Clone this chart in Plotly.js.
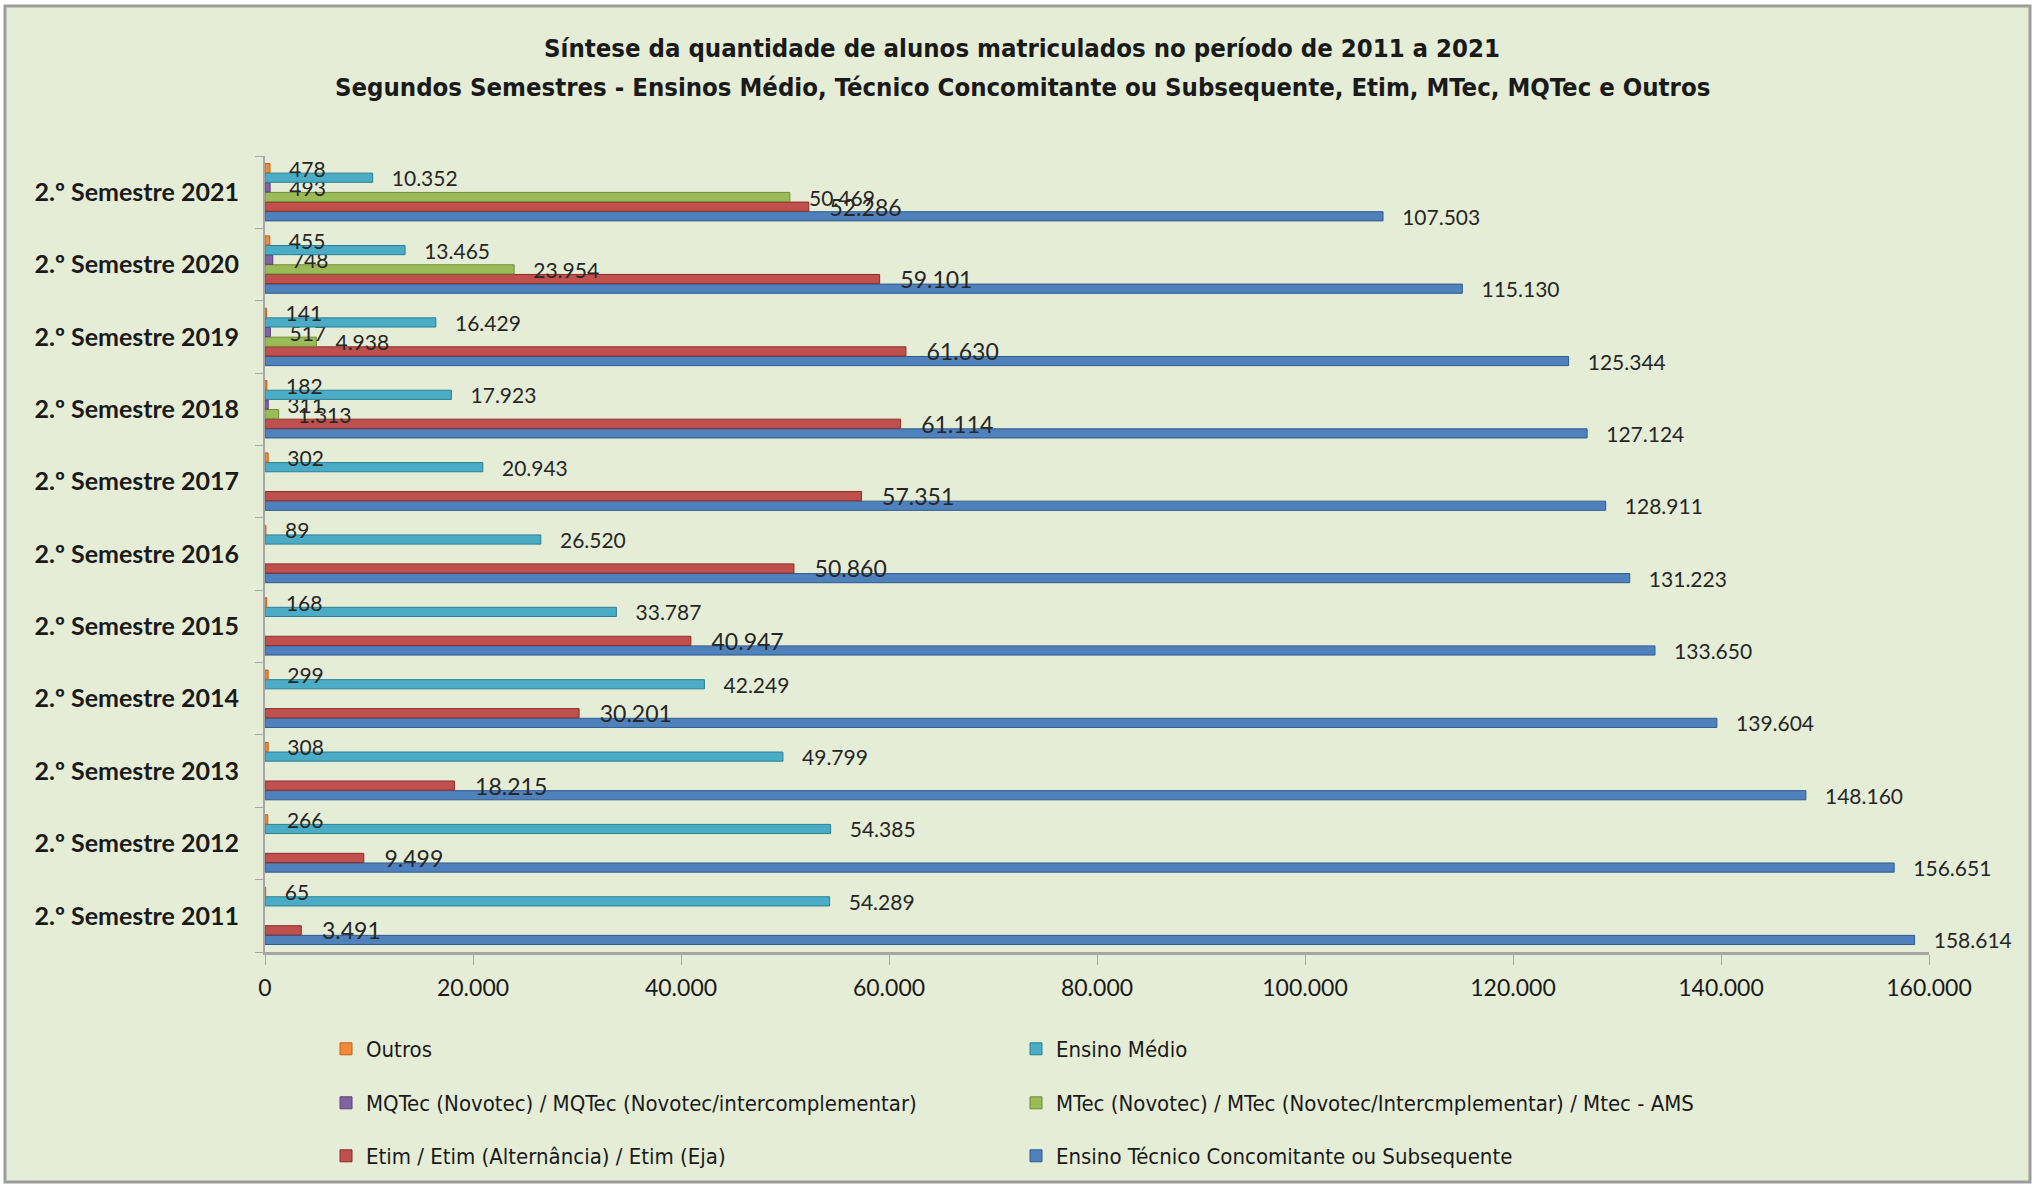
<!DOCTYPE html>
<html>
<head>
<meta charset="utf-8">
<script src="https://cdn.plot.ly/plotly-3.0.1.min.js"></script>
<style>
html,body{margin:0;padding:0;background:#ffffff;}
#chart{width:2044px;height:1185px;}
</style>
</head>
<body>
<div id="chart"></div>
<script>
// Categories (bottom to top)
const categories = [
  "2.º Semestre 2011","2.º Semestre 2012","2.º Semestre 2013","2.º Semestre 2014",
  "2.º Semestre 2015","2.º Semestre 2016","2.º Semestre 2017","2.º Semestre 2018",
  "2.º Semestre 2019","2.º Semestre 2020","2.º Semestre 2021"
];
// Series values, same order as categories
const ensinoTecnico = [158614,156651,148160,139604,133650,131223,128911,127124,125344,115130,107503];
const etim          = [3491,9499,18215,30201,40947,50860,57351,61114,61630,59101,52286];
const mtec          = [null,null,null,null,null,null,null,1313,4938,23954,50469];
const mqtec         = [null,null,null,null,null,null,null,311,517,748,493];
const ensinoMedio   = [54289,54385,49799,42249,33787,26520,20943,17923,16429,13465,10352];
const outros        = [65,266,308,299,168,89,302,182,141,455,478];

const seriesNames = {
  ensinoTecnico: "Ensino Técnico Concomitante ou Subsequente",
  etim: "Etim / Etim (Alternância) / Etim (Eja)",
  mtec: "MTec (Novotec) / MTec (Novotec/Intercmplementar) / Mtec - AMS",
  mqtec: "MQTec (Novotec) / MQTec (Novotec/intercomplementar)",
  ensinoMedio: "Ensino Médio",
  outros: "Outros"
};
const titleLine1 = "Síntese da quantidade de alunos matriculados no período de 2011 a 2021";
const titleLine2 = "Segundos Semestres - Ensinos Médio, Técnico Concomitante ou Subsequente, Etim, MTec, MQTec e Outros";
const xTickVals = [0,20000,40000,60000,80000,100000,120000,140000,160000];

const labelFont = {family: "Lato, 'Open Sans', sans-serif", size: 21, color: "#262626"};

function barTrace(vals, name, color, line, legend, fontSize) {
  return {
    type: "bar",
    orientation: "h",
    y: categories,
    x: vals,
    name: name,
    legend: legend,
    marker: {color: color, line: {color: line, width: 1}},
    texttemplate: "\u00A0\u00A0\u00A0%{x:,d}",
    textposition: "outside",
    constraintext: "none",
    cliponaxis: false,
    textfont: Object.assign({}, labelFont, {size: fontSize}),
    hoverinfo: "x+name"
  };
}

const data = [
  barTrace(ensinoTecnico, seriesNames.ensinoTecnico, "#4F81BD", "#2F5B8F", "legend3", 21),
  barTrace(etim, seriesNames.etim, "#C0504D", "#8C2D2A", "legend3", 23),
  barTrace(mtec, seriesNames.mtec, "#9BBB59", "#6E8C36", "legend2", 21),
  barTrace(mqtec, seriesNames.mqtec, "#8064A2", "#5A4179", "legend2", 21),
  barTrace(ensinoMedio, seriesNames.ensinoMedio, "#4BACC6", "#2A7F96", "legend", 21),
  barTrace(outros, seriesNames.outros, "#F38A3A", "#C0621A", "legend", 21)
];

// Plot area in pixels: x 265..1929, y 156..952
const PL = 265, PR = 1929, PT = 156, PB = 952;
const pw = PR - PL, ph = PB - PT;
const px = v => (v - PL) / pw;
const py = v => (PB - v) / ph;

const legendFont = {family: "'DejaVu Sans Condensed', 'DejaVu Sans', sans-serif", size: 22, color: "#1a1a1a"};
function legendCfg(yPix) {
  return {
    orientation: "h",
    x: px(326), xanchor: "left",
    y: py(yPix), yanchor: "middle",
    entrywidth: 645, entrywidthmode: "pixels",
    traceorder: "reversed",
    font: legendFont,
    bgcolor: "rgba(0,0,0,0)",
    itemwidth: 30
  };
}

const titleFont = {family: "'DejaVu Sans Condensed', 'DejaVu Sans', sans-serif", size: 25.5, color: "#1a1a1a", weight: "bold"};

const layout = {
  width: 2044, height: 1185,
  margin: {l: PL, r: 2044 - PR, t: PT, b: 1185 - PB, pad: 0, autoexpand: false},
  paper_bgcolor: "#ffffff",
  plot_bgcolor: "rgba(0,0,0,0)",
  separators: ",.",
  barmode: "group",
  bargap: 0.2,
  bargroupgap: 0.05,
  showlegend: true,
  title: {
    text: titleLine1,
    font: titleFont,
    x: 0.5, xref: "container", xanchor: "center",
    y: 1 - 48/1185, yref: "container", yanchor: "middle"
  },
  annotations: [{
    text: titleLine2,
    font: titleFont,
    xref: "paper", yref: "paper",
    x: px(1022), xanchor: "center",
    y: py(87), yanchor: "middle",
    showarrow: false
  }],
  xaxis: {
    range: [0, 160000],
    tickvals: xTickVals,
    tickformat: ",d",
    showgrid: false,
    zeroline: false,
    automargin: false,
    showline: true, linecolor: "#a6a6a6", linewidth: 3,
    ticks: "outside", ticklen: 10, tickcolor: "#a6a6a6", tickwidth: 1,
    ticklabelstandoff: 3,
    tickfont: {family: "Lato, 'Open Sans', sans-serif", size: 23, color: "#1a1a1a"}
  },
  yaxis: {
    type: "category",
    categoryorder: "array", categoryarray: categories,
    showgrid: false,
    zeroline: false,
    automargin: false,
    showline: true, linecolor: "#a6a6a6", linewidth: 2,
    ticks: "outside", tickson: "boundaries", ticklen: 8, tickcolor: "#a6a6a6",
    ticklabelstandoff: 19,
    tickfont: {family: "Lato, 'Open Sans', sans-serif", size: 25, color: "#1a1a1a", weight: "bold"}
  },
  legend: legendCfg(1049),
  legend2: legendCfg(1103),
  legend3: legendCfg(1156),
  shapes: [{
    type: "rect", xref: "paper", yref: "paper", layer: "below",
    x0: px(5), x1: px(2030), y0: py(1182), y1: py(6),
    fillcolor: "#E5EDD6", line: {color: "#9d9d9d", width: 3}
  }]
};

Plotly.newPlot("chart", data, layout, {displayModeBar: false, staticPlot: true});
</script>
</body>
</html>
